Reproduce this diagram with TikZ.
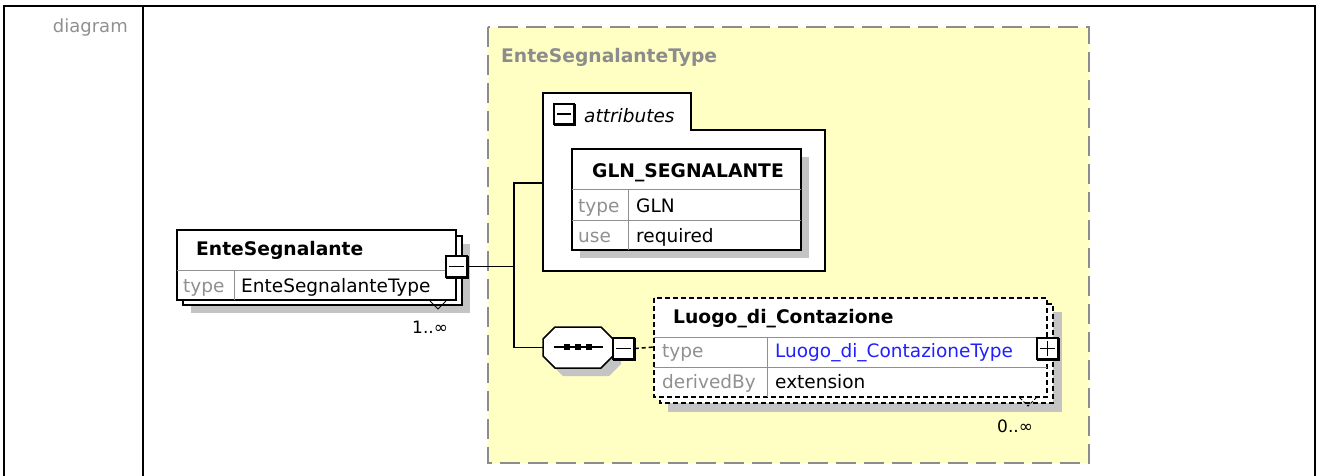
\documentclass[tikz,border=0pt]{standalone}
\usepackage{fontspec}
\setmainfont{DejaVu Sans}
\usetikzlibrary{positioning}

\definecolor{typeyellow}{HTML}{FFFFC4}
\definecolor{framegray}{HTML}{8C8C8C}
\definecolor{keygray}{HTML}{909090}
\definecolor{shadowgray}{HTML}{C4C4C4}
\definecolor{linkblue}{HTML}{2020FF}

\newcommand{\toggleedge}[1]{\draw [line width=3pt] ([yshift=-1pt]#1.north east) -- (#1.south east) -- ([xshift=1pt]#1.south west);}

\tikzset{
	boxtitle/.style={font=\bfseries\fontsize{18.7}{22}\selectfont, inner sep=0pt, anchor=base west},
	keytext/.style={text=keygray, font=\fontsize{18.5}{22}\selectfont, inner sep=0pt, anchor=base west},
	valtext/.style={font=\fontsize{18.5}{22}\selectfont, inner sep=0pt, anchor=base west},
	multtext/.style={font=\fontsize{17}{20}\selectfont, inner sep=0pt, anchor=base west},
	cellline/.style={draw=keygray, line width=1pt},
	togglebox/.style={draw, fill=white, line width=1.5pt, minimum size=21pt, inner sep=0pt},
	conn/.style={line width=1.5pt},
}

\begin{document}
\begin{tikzpicture}[x=1pt,y=-1pt]
	\useasboundingbox (0,0) rectangle (1318,475);

	%Table frame
	\draw [line width=2pt] (3.5,476) -- (3.5,5.5) -- (1315,5.5) -- (1315,476);
	\draw [line width=2pt] (143,5.5) -- (143,476);
	\node [keytext, font=\fontsize{18}{22}\selectfont, anchor=base east] (rowlabel) at (128,32) {diagram};

	%Complex type area
	\draw [fill=typeyellow, draw=framegray, line width=2pt, dash pattern=on 20pt off 8pt] (488,27) rectangle (1089,463);
	\node [boxtitle, text=framegray] (typename) at (501,62) {EnteSegnalanteType};

	%Element EnteSegnalante
	\fill [shadowgray] (191,244) rectangle (470,313);
	\draw [fill=white, line width=1.5pt] (183,236) rectangle (462,305);
	\draw [fill=white, line width=1.5pt] (177,230) rectangle (456,300);
	\draw [cellline] (177,270) -- (456,270);
	\draw [cellline] (234,270) -- (234,300);
	\node [boxtitle] (entename) at (196,255) {EnteSegnalante};
	\node [keytext] (entekey) at (183,292) {type};
	\node [valtext] (enteval) at (241,292) {EnteSegnalanteType};
	\draw [line width=1pt] (430,301) -- (438,309) -- (446,301);
	\node [multtext] (entemult) at (412,333) {1..∞};
	\node [togglebox] (entetoggle) at (456.5,266.5) {};
	\toggleedge{entetoggle}
	\draw [line width=1.5pt] ([xshift=4pt]entetoggle.west) -- ([xshift=-4pt]entetoggle.east);

	%Attributes group
	\draw [fill=white, line width=2pt] (543,93) -- (691,93) -- (691,130) -- (825,130) -- (825,271) -- (543,271) -- cycle;
	\coordinate (attrin) at (543,183);
	\node [togglebox, minimum size=20pt] (attrtoggle) at (564,114) {};
	\toggleedge{attrtoggle}
	\draw [line width=1.5pt] ([xshift=4pt]attrtoggle.west) -- ([xshift=-4pt]attrtoggle.east);
	\node [valtext, font=\itshape\fontsize{18.5}{22}\selectfont] (attrlabel) at (584,122) {attributes};

	%Attribute GLN_SEGNALANTE
	\fill [shadowgray] (580,157) rectangle (809,258);
	\draw [fill=white, line width=1.5pt] (572,149) rectangle (801,250);
	\draw [cellline] (572,189) -- (801,189);
	\draw [cellline] (572,220) -- (801,220);
	\draw [cellline] (628,189) -- (628,250);
	\node [boxtitle, anchor=base] (glnname) at (688,177) {GLN\_SEGNALANTE};
	\node [keytext] (glnkey) at (578,212) {type};
	\node [valtext] (glnval) at (636,212) {GLN};
	\node [keytext] (usekey) at (578,242) {use};
	\node [valtext] (useval) at (636,242) {required};

	%Sequence compositor
	\fill [shadowgray, shift={(8,8)}] (555,327) -- (601,327) -- (613,339) -- (613,356) -- (601,368) -- (555,368) -- (543,356) -- (543,339) -- cycle;
	\draw [fill=white, line width=1.5pt] (555,327) -- (601,327) -- (613,339) -- (613,356) -- (601,368) -- (555,368) -- (543,356) -- (543,339) -- cycle;
	\node [minimum width=70pt, minimum height=41pt, inner sep=0pt] (seq) at (578,347.5) {};
	\draw [line width=1.5pt] (554,347) -- (603,347);
	\foreach \dx in {567,578,589}
		\fill (\dx-3,344) rectangle (\dx+3,350);
	\node [togglebox] (seqtoggle) at (623.5,348.5) {};
	\toggleedge{seqtoggle}
	\draw [line width=1.5pt] ([xshift=4pt]seqtoggle.west) -- ([xshift=-4pt]seqtoggle.east);

	%Element Luogo_di_Contazione
	\fill [shadowgray] (668,312) rectangle (1062,412);
	\draw [fill=white, line width=1.5pt, dash pattern=on 5pt off 3pt] (660,304) rectangle (1053,403);
	\draw [fill=white, line width=1.5pt, dash pattern=on 5pt off 3pt] (654,298) rectangle (1047,397);
	\coordinate (luogoin) at (654,347);
	\draw [cellline] (654,337) -- (1047,337);
	\draw [cellline] (654,367) -- (1047,367);
	\draw [cellline] (767,337) -- (767,397);
	\node [boxtitle] (luogoname) at (673,323) {Luogo\_di\_Contazione};
	\node [keytext] (luogokey) at (662,357) {type};
	\node [valtext, text=linkblue] (luogoval) at (775,357) {Luogo\_di\_ContazioneType};
	\node [keytext] (derivkey) at (662,388) {derivedBy};
	\node [valtext] (derivval) at (775,388) {extension};
	\draw [line width=1pt, dash pattern=on 3pt off 2pt] (1020,398) -- (1028,406) -- (1036,398);
	\node [multtext] (luogomult) at (997,432) {0..∞};
	\node [togglebox] (luogotoggle) at (1047.5,348.5) {};
	\toggleedge{luogotoggle}
	\draw [line width=1.5pt] ([xshift=4pt]luogotoggle.west) -- ([xshift=-4pt]luogotoggle.east);
	\draw [line width=1.5pt] ([yshift=-4pt]luogotoggle.north) -- ([yshift=4pt]luogotoggle.south);

	%Connectors
	\coordinate (trunk) at (514,266.5);
	\draw [conn] (entetoggle.east) -- (trunk);
	\draw [conn] (attrin) -| (trunk);
	\draw [conn] (seq.west) -| (trunk);
	\draw [conn, dash pattern=on 4pt off 3pt] (seqtoggle.east) -- (luogoin);
\end{tikzpicture}
\end{document}
